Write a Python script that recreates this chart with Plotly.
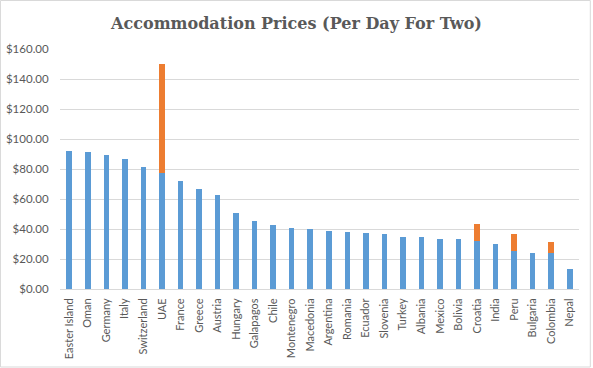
import plotly.graph_objects as go

countries = ["Easter Island", "Oman", "Germany", "Italy", "Switzerland", "UAE", "France",
             "Greece", "Austria", "Hungary", "Galapagos", "Chile", "Montenegro", "Macedonia",
             "Argentina", "Romania", "Ecuador", "Slovenia", "Turkey", "Albania", "Mexico",
             "Bolivia", "Croatia", "India", "Peru", "Bulgaria", "Colombia", "Nepal"]
base_price = [92.2, 91.5, 89.5, 86.9, 81.1, 77.1, 72.2, 66.9, 62.4, 50.9, 45.5, 42.4, 40.9,
              39.8, 38.9, 38.2, 37.5, 36.9, 34.9, 34.9, 33.6, 33.6, 31.8, 30.2, 25.1, 24.2,
              23.8, 13.4]
extra_price = [0, 0, 0, 0, 0, 72.6, 0, 0, 0, 0, 0, 0, 0, 0, 0, 0, 0, 0, 0, 0, 0, 0,
               11.8, 0, 11.8, 0, 7.8, 0]
y_ticks = [0, 20, 40, 60, 80, 100, 120, 140, 160]
y_tick_labels = ["$0.00", "$20.00", "$40.00", "$60.00", "$80.00", "$100.00", "$120.00",
                 "$140.00", "$160.00"]

W, H = 593, 368
L, R, T, B = 60, 14.3, 49, 79
pw, ph = W - L - R, H - T - B

fig = go.Figure()
fig.add_trace(go.Bar(x=countries, y=base_price, name="Price", marker_color="#5B9BD5",
                     marker_line_width=0))
fig.add_trace(go.Bar(x=countries, y=extra_price, name="Extra", marker_color="#ED7D31",
                     marker_line_width=0))

fig.update_layout(
    width=W, height=H,
    margin=dict(l=L, r=R, t=T, b=B, autoexpand=False),
    barmode="stack", bargap=0.7,
    showlegend=False,
    plot_bgcolor="white", paper_bgcolor="white",
    title=dict(text="<b>Accommodation Prices (Per Day For Two)</b>",
               font=dict(family="DejaVu Serif", size=16, color="#595959"),
               x=0.5, xanchor="center", xref="container",
               y=1 - 23 / H, yanchor="middle", yref="container"),
    font=dict(family="Lato", color="#595959"),
)
fig.update_yaxes(range=[0, 160], tickmode="array", tickvals=y_ticks, ticktext=y_tick_labels,
                 showgrid=True, gridcolor="#D9D9D9", gridwidth=1, zeroline=False,
                 tickfont=dict(size=11.5, color="#595959"), ticks="outside", ticklen=8,
                 tickcolor="rgba(0,0,0,0)", automargin=False)
fig.update_xaxes(tickangle=-90, tickfont=dict(size=11, color="#595959"),
                 showline=True, linecolor="#D9D9D9", linewidth=1, ticks="outside",
                 ticklen=4, tickcolor="rgba(0,0,0,0)", automargin=False)

# chart-area border
fig.add_shape(type="rect", xref="paper", yref="paper",
              x0=(0.5 - L) / pw, x1=(590 - L) / pw,
              y0=(H - 367 - B) / ph, y1=(H - 0.5 - B) / ph,
              line=dict(color="#D9D9D9", width=1), fillcolor="rgba(0,0,0,0)", layer="below")

fig.write_html("out.html", config={"displayModeBar": False},
               post_script="document.body.style.margin='0';document.body.style.padding='0';")
